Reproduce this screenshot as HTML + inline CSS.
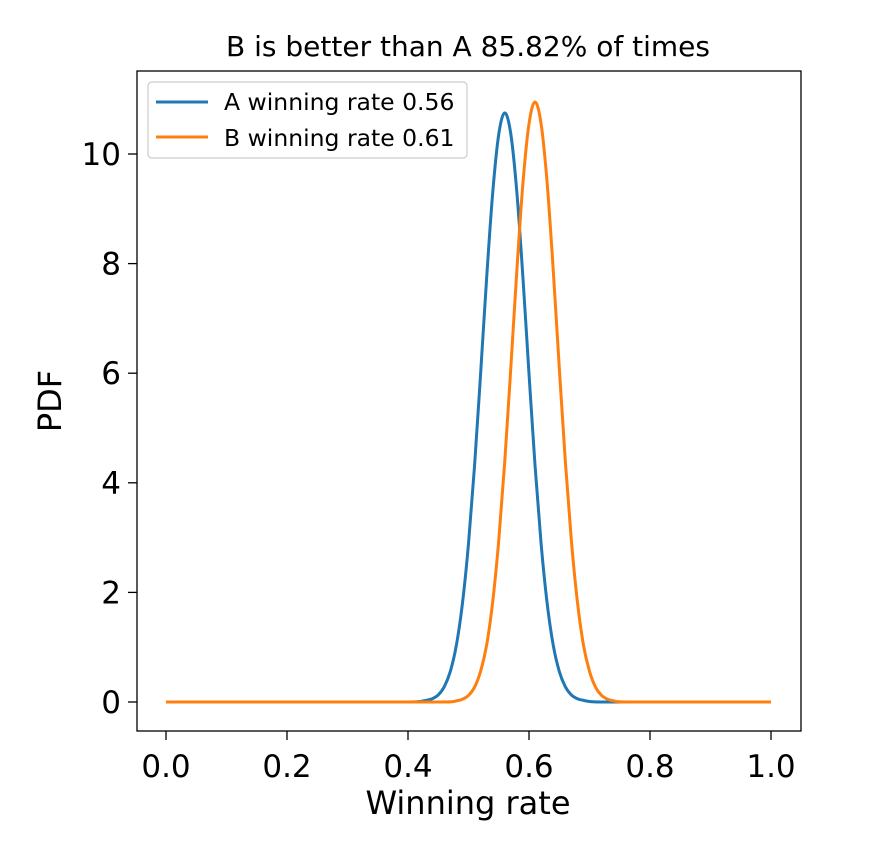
<!DOCTYPE html>
<html><head><meta charset="utf-8"><style>
body{margin:0;background:#fff;}
svg text{font-family:"DejaVu Sans","Liberation Sans",sans-serif;fill:#000;}
</style></head><body>
<svg id="chart" width="894" height="842" viewBox="0 0 894 842" xmlns="http://www.w3.org/2000/svg">
<text x="468" y="56" font-size="28" text-anchor="middle">B is better than A 85.82% of times</text>
<g id="curves"></g>
<rect x="137" y="71" width="664" height="660" fill="none" stroke="#000" stroke-width="1.3"/>
<g id="xticks"></g><g id="yticks"></g>
<text x="468" y="814" font-size="32" text-anchor="middle">Winning rate</text>
<text transform="translate(61,401) rotate(-90)" font-size="32" text-anchor="middle">PDF</text>
<g>
<rect x="148" y="82" width="319" height="76" rx="4" fill="#fff" fill-opacity="0.8" stroke="#ccc" stroke-width="1.2"/>
<line x1="156" y1="102" x2="208" y2="102" stroke="#1f77b4" stroke-width="3"/>
<text x="224" y="110" font-size="23.5">A winning rate 0.56</text>
<line x1="156" y1="137" x2="208" y2="137" stroke="#ff7f0e" stroke-width="3"/>
<text x="224" y="146" font-size="23.5">B winning rate 0.61</text>
</g>
</svg>
<script>
const xTickLabels=["0.0","0.2","0.4","0.6","0.8","1.0"];
const xTickValues=[0,0.2,0.4,0.6,0.8,1.0];
const yTickValues=[0,2,4,6,8,10];
const xA=[0,0.40,0.42,0.43,0.44,0.45,0.46,0.47,0.48,0.49,0.50,0.51,0.52,0.53,0.54,0.55,0.56,0.57,0.58,0.59,0.60,0.61,0.62,0.63,0.64,0.65,0.66,0.67,0.68,0.69,0.70,0.72,1.0];
const yA=[0,0,0.01,0.03,0.06,0.13,0.28,0.56,1.04,1.80,2.89,4.31,5.99,7.74,9.29,10.36,10.75,10.36,9.29,7.74,5.99,4.31,2.89,1.80,1.04,0.56,0.28,0.13,0.06,0.03,0.01,0,0];
const xB=[0,0.46,0.48,0.49,0.50,0.51,0.52,0.53,0.54,0.55,0.56,0.57,0.58,0.59,0.60,0.61,0.62,0.63,0.64,0.65,0.66,0.67,0.68,0.69,0.70,0.71,0.72,0.73,0.74,0.76,1.0];
const yB=[0,0,0.02,0.05,0.12,0.27,0.56,1.04,1.83,2.95,4.40,6.11,7.89,9.47,10.55,10.95,10.55,9.47,7.89,6.11,4.40,2.95,1.83,1.04,0.56,0.27,0.12,0.05,0.02,0,0];
const NS="http://www.w3.org/2000/svg";
const sx=v=>166+v*605, sy=v=>702-v*54.8;
function smoothPath(pts){
  let d='M'+pts[0][0]+','+pts[0][1];
  for(let i=0;i<pts.length-1;i++){
    const p0=pts[Math.max(0,i-1)],p1=pts[i],p2=pts[i+1],p3=pts[Math.min(pts.length-1,i+2)];
    let c1x=p1[0]+(p2[0]-p0[0])/6,c1y=p1[1]+(p2[1]-p0[1])/6;
    let c2x=p2[0]-(p3[0]-p1[0])/6,c2y=p2[1]-(p3[1]-p1[1])/6;
    const lo=Math.min(p1[0],p2[0]),hi=Math.max(p1[0],p2[0]);
    c1x=Math.min(hi,Math.max(lo,c1x));c2x=Math.min(hi,Math.max(lo,c2x));
    const ylo=Math.min(p1[1],p2[1]),yhi=Math.max(p1[1],p2[1]);
    if(i===0||i===pts.length-2){c1y=Math.min(yhi,Math.max(ylo,c1y));c2y=Math.min(yhi,Math.max(ylo,c2y));}
    d+=' C'+c1x+','+c1y+' '+c2x+','+c2y+' '+p2[0]+','+p2[1];
  }
  return d;
}
function curve(xs,ys,color,name){
  const p=document.createElementNS(NS,'path');
  p.setAttribute('d',smoothPath(xs.map((x,i)=>[sx(x),sy(ys[i])])));
  p.setAttribute('fill','none');p.setAttribute('stroke',color);p.setAttribute('stroke-width','3');p.setAttribute('stroke-linejoin','round');
  
  
  document.getElementById('curves').appendChild(p);
}
curve(xA,yA,'#1f77b4','series-a-line');
curve(xB,yB,'#ff7f0e','series-b-line');
const xg=document.getElementById('xticks');
xTickValues.forEach((v,i)=>{
  const l=document.createElementNS(NS,'line');
  l.setAttribute('x1',sx(v));l.setAttribute('x2',sx(v));l.setAttribute('y1',731);l.setAttribute('y2',740);l.setAttribute('stroke','#000');l.setAttribute('stroke-width','1.3');
  
  
  xg.appendChild(l);
  const t=document.createElementNS(NS,'text');
  t.setAttribute('x',sx(v));t.setAttribute('y',777);t.setAttribute('font-size','31');t.setAttribute('text-anchor','middle');
  t.textContent=xTickLabels[i];
  
  
  xg.appendChild(t);
});
const yg=document.getElementById('yticks');
yTickValues.forEach(v=>{
  const l=document.createElementNS(NS,'line');
  l.setAttribute('x1',128);l.setAttribute('x2',137);l.setAttribute('y1',sy(v));l.setAttribute('y2',sy(v));l.setAttribute('stroke','#000');l.setAttribute('stroke-width','1.3');
  
  
  yg.appendChild(l);
  const t=document.createElementNS(NS,'text');
  t.setAttribute('x',121);t.setAttribute('y',sy(v)+11);t.setAttribute('font-size','31');t.setAttribute('text-anchor','end');
  t.textContent=String(v);
  
  
  yg.appendChild(t);
});
</script>
</body></html>
